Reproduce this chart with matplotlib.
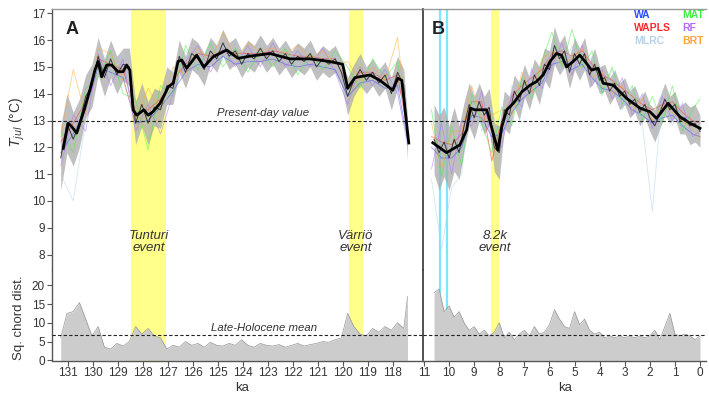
import numpy as np
import matplotlib
matplotlib.use("Agg")
import matplotlib.pyplot as plt

plt.rcParams['font.family'] = ['Liberation Sans', 'DejaVu Sans']

# ---------------- DATA ----------------
# Panel A (Eemian), LOESS-smoothed mean
A_sm_age = [131.2, 131.0, 130.86, 130.66, 130.4, 130.13, 129.93, 129.8, 129.66, 129.46, 129.26, 129.0,
            128.8, 128.66, 128.53, 128.4, 128.26, 128.13, 127.97, 127.8, 127.6, 127.32, 127.12, 126.99,
            126.79, 126.6, 126.45, 126.25, 125.85, 125.56, 125.19, 124.65, 124.19, 123.72, 122.92, 122.11,
            121.31, 120.51, 120.0, 119.8, 119.51, 118.91, 118.51, 117.99, 117.79, 117.63, 117.35]
A_sm_T = [11.96, 12.9, 12.77, 12.53, 13.28, 14.14, 14.88, 15.2, 14.63, 15.07, 15.07, 14.82,
          14.82, 15.07, 14.88, 13.4, 13.2, 13.28, 13.4, 13.2, 13.33, 13.64, 14.0, 14.26,
          14.39, 15.2, 15.26, 14.95, 15.44, 15.0, 15.38, 15.63, 15.32, 15.4, 15.5, 15.3,
          15.3, 15.2, 15.1, 14.2, 14.6, 14.7, 14.5, 14.13, 14.58, 14.5, 12.16]

# Panel A sample-level mean reconstruction, spread and chord distance
A_age = [131.30, 131.05, 130.80, 130.55, 130.30, 130.05, 129.80, 129.55, 129.30, 129.05,
         128.80, 128.55, 128.30, 128.05, 127.80, 127.55, 127.30, 127.05, 126.80, 126.55,
         126.30, 126.05, 125.80, 125.55, 125.30, 125.05, 124.80, 124.55, 124.30, 124.05,
         123.80, 123.55, 123.30, 123.05, 122.80, 122.55, 122.30, 122.05, 121.80, 121.55,
         121.30, 121.05, 120.80, 120.55, 120.30, 120.05, 119.80, 119.55, 119.30, 119.05,
         118.80, 118.55, 118.30, 118.05, 117.80, 117.55, 117.40]
A_T = [11.6, 12.9, 12.3, 12.9, 13.9, 14.3, 15.4, 14.6, 15.3, 14.7,
       15.1, 15.0, 12.9, 13.6, 12.9, 13.5, 13.4, 14.3, 14.2, 15.4,
       14.8, 15.5, 15.3, 14.9, 15.6, 15.3, 15.9, 15.4, 15.6, 15.1,
       15.5, 15.3, 15.7, 15.3, 15.6, 15.2, 15.5, 15.1, 15.4, 15.2,
       15.5, 15.0, 15.3, 15.1, 15.3, 14.8, 13.9, 14.5, 14.9, 14.5,
       14.8, 14.4, 14.7, 14.0, 14.8, 14.3, 12.3]
A_spread = [1.2, 1.1, 1.0, 0.9, 0.8, 0.8, 0.7, 0.7, 0.7, 0.7,
            0.6, 0.7, 0.8, 0.8, 0.8, 0.7, 0.7, 0.7, 0.6, 0.6,
            0.6, 0.6, 0.6, 0.6, 0.5, 0.5, 0.5, 0.5, 0.5, 0.5,
            0.5, 0.5, 0.5, 0.5, 0.5, 0.5, 0.5, 0.5, 0.5, 0.5,
            0.5, 0.5, 0.5, 0.5, 0.5, 0.5, 0.7, 0.6, 0.6, 0.5,
            0.5, 0.5, 0.5, 0.6, 0.6, 0.6, 0.8]
A_chord = [6.0, 12.5, 13.0, 15.4, 11.0, 6.5, 9.0, 3.5, 3.0, 4.5,
           3.8, 5.0, 9.0, 7.0, 8.5, 6.5, 6.0, 3.0, 4.0, 3.5,
           5.0, 4.0, 4.5, 3.5, 4.8, 4.0, 3.8, 4.5, 4.0, 5.5,
           4.0, 3.5, 4.5, 4.0, 3.8, 4.2, 3.5, 4.0, 4.5, 3.8,
           4.2, 4.5, 5.0, 4.8, 5.5, 6.0, 12.5, 9.0, 7.0, 6.5,
           8.5, 7.5, 9.0, 8.0, 10.0, 8.5, 17.0]

# Panel A individual transfer-function methods
A_m_age = [131.3, 130.8, 130.3, 129.8, 129.3, 128.8, 128.3, 127.8, 127.3, 126.8, 126.3, 125.8, 125.3, 124.8,
           124.3, 123.8, 123.3, 122.8, 122.3, 121.8, 121.3, 120.8, 120.3, 119.8, 119.3, 118.8, 118.3, 117.8, 117.4]
A_WA = [11.8, 12.5, 13.4, 15.0, 14.8, 14.6, 12.9, 13.0, 13.5, 14.1, 14.8, 15.1, 15.0, 15.4, 15.1, 15.2, 15.2,
        15.3, 15.1, 15.0, 15.1, 15.0, 14.9, 13.9, 14.4, 14.5, 14.2, 14.3, 12.3]
A_WAPLS = [12.2, 12.9, 13.7, 15.3, 15.1, 14.9, 13.3, 13.4, 13.8, 14.5, 15.1, 15.5, 15.4, 15.6, 15.5, 15.5, 15.5,
           15.6, 15.5, 15.4, 15.4, 15.3, 15.3, 14.3, 14.8, 14.8, 14.5, 14.7, 12.6]
A_MLRC = [11.0, 10.0, 13.0, 15.8, 14.6, 15.5, 12.4, 13.0, 12.8, 14.9, 15.6, 15.0, 15.9, 15.2, 16.0, 15.1, 15.9,
          15.3, 15.8, 15.1, 15.7, 15.0, 15.6, 14.0, 15.3, 14.6, 15.0, 14.1, 12.0]
A_MAT = [12.6, 11.8, 14.2, 14.6, 15.6, 14.0, 13.8, 11.9, 14.3, 13.9, 15.8, 14.9, 15.9, 15.0, 15.7, 14.8, 15.6,
         15.0, 15.7, 14.7, 15.5, 14.9, 15.6, 15.0, 14.2, 15.3, 14.6, 15.2, 13.0]
A_RF = [11.3, 13.2, 12.6, 15.5, 14.3, 15.3, 12.6, 13.6, 12.5, 14.0, 15.2, 15.8, 14.8, 15.7, 15.0, 15.8, 15.0,
        15.9, 15.0, 15.6, 15.0, 15.7, 14.8, 13.6, 15.0, 14.3, 14.9, 14.0, 12.2]
A_BRT = [12.4, 14.9, 13.2, 15.7, 15.5, 14.5, 13.0, 14.2, 13.4, 15.0, 14.7, 15.7, 15.2, 16.3, 15.3, 15.9, 15.6,
         15.7, 15.5, 15.8, 15.3, 15.6, 15.1, 15.2, 14.5, 15.0, 14.5, 16.1, 12.8]

# Panel B (Holocene), LOESS-smoothed mean
B_sm_age = [10.65, 10.1, 9.57, 9.3, 9.15, 8.98, 8.5, 8.24, 8.06, 7.9, 7.7, 7.44, 7.1, 6.77, 6.52, 6.25,
            5.98, 5.72, 5.52, 5.32, 5.06, 4.79, 4.52, 4.32, 4.06, 3.86, 3.46, 2.93, 2.39, 2.0, 1.73, 1.27,
            0.8, 0.4, 0.0]
B_sm_T = [12.17, 11.8, 12.09, 12.65, 13.46, 13.4, 13.4, 12.52, 11.9, 12.77, 13.4, 13.64, 14.07, 14.32, 14.45,
          14.7, 15.2, 15.5, 15.44, 15.0, 15.2, 15.44, 15.13, 14.88, 14.95, 14.39, 14.32, 13.83, 13.46, 13.33,
          13.08, 13.64, 13.14, 12.9, 12.71]

B_age = [10.6, 10.4, 10.2, 10.0, 9.8, 9.6, 9.4, 9.2, 9.0, 8.8, 8.6, 8.4, 8.2, 8.0, 7.8, 7.6, 7.4, 7.2,
         7.0, 6.8, 6.6, 6.4, 6.2, 6.0, 5.8, 5.6, 5.4, 5.2, 5.0, 4.8, 4.6, 4.4, 4.2, 4.0, 3.8, 3.6,
         3.4, 3.2, 3.0, 2.8, 2.6, 2.4, 2.2, 2.0, 1.8, 1.6, 1.4, 1.2, 1.0, 0.8, 0.6, 0.4, 0.2, 0.0]
B_T = [12.3, 11.8, 12.2, 11.6, 12.3, 11.8, 12.8, 13.6, 13.1, 13.7, 13.2, 13.5, 12.0, 11.8, 13.4, 13.2, 14.1, 13.7,
       14.5, 14.0, 14.7, 14.3, 15.1, 14.9, 15.8, 15.3, 15.6, 14.8, 15.5, 15.1, 15.5, 14.7, 15.1, 14.5, 14.6, 14.1,
       14.4, 13.9, 14.1, 13.6, 13.8, 13.3, 13.6, 13.1, 12.8, 13.3, 13.8, 13.4, 13.6, 13.0, 13.1, 12.8, 12.9, 12.6]
B_spread = [1.3, 1.4, 1.3, 1.2, 1.2, 1.0, 0.9, 0.8, 0.8, 0.7, 0.7, 0.7, 0.9, 1.0, 0.7, 0.7, 0.6, 0.7,
            0.6, 0.6, 0.6, 0.7, 0.6, 0.7, 0.7, 0.6, 0.6, 0.6, 0.6, 0.6, 0.6, 0.5, 0.6, 0.5, 0.5, 0.5,
            0.5, 0.5, 0.5, 0.5, 0.5, 0.5, 0.5, 0.5, 0.6, 0.6, 0.6, 0.5, 0.5, 0.5, 0.6, 0.7, 0.7, 0.6]
B_chord = [18.0, 19.0, 13.0, 14.5, 11.5, 13.0, 10.0, 8.0, 9.0, 7.0, 8.0, 6.5, 7.5, 10.0, 6.0, 7.5, 5.5, 7.0,
           8.0, 6.5, 9.0, 7.0, 7.5, 9.5, 13.5, 11.0, 9.0, 8.5, 13.0, 9.5, 11.0, 8.0, 7.0, 7.5, 6.0, 6.5,
           6.0, 6.5, 6.0, 6.5, 6.0, 6.5, 6.0, 6.5, 8.0, 5.5, 9.0, 12.5, 7.0, 6.5, 7.0, 6.5, 5.5, 6.5]

B_m_age = [10.7, 10.3, 9.9, 9.5, 9.1, 8.7, 8.3, 7.9, 7.5, 7.1, 6.7, 6.3, 5.9, 5.5, 5.1, 4.7, 4.3, 3.9,
           3.5, 3.1, 2.7, 2.3, 1.9, 1.5, 1.1, 0.7, 0.3, 0.0]
B_WA = [12.0, 11.6, 11.6, 12.0, 13.2, 13.1, 12.4, 12.5, 13.3, 13.8, 14.1, 14.4, 15.1, 15.2, 14.9, 15.1, 14.6,
        14.2, 14.1, 13.8, 13.4, 13.2, 12.9, 13.1, 13.2, 12.8, 12.5, 12.4]
B_WAPLS = [12.4, 12.2, 12.1, 12.5, 13.7, 13.7, 11.5, 13.0, 13.9, 14.3, 14.6, 14.9, 15.5, 15.6, 15.4, 15.6, 15.1,
           14.7, 14.5, 14.2, 13.9, 13.6, 13.4, 13.6, 13.7, 13.3, 13.0, 12.9]
B_MLRC = [10.8, 8.2, 10.5, 11.0, 14.2, 12.6, 13.5, 11.9, 14.3, 13.4, 15.0, 13.9, 15.9, 14.8, 15.8, 14.7, 15.4,
          13.9, 14.9, 13.4, 14.2, 12.9, 9.6, 14.0, 12.8, 13.7, 12.3, 13.2]
B_MAT = [13.4, 10.9, 12.8, 11.3, 14.0, 12.9, 11.8, 13.5, 12.8, 14.6, 13.8, 15.2, 16.3, 15.0, 16.4, 15.0, 15.6,
         14.0, 15.0, 13.6, 14.3, 13.0, 13.9, 12.9, 14.3, 12.6, 13.4, 13.8]
B_RF = [11.2, 12.9, 11.0, 13.0, 12.8, 14.1, 12.2, 12.0, 14.0, 13.5, 14.9, 14.2, 15.0, 15.9, 14.7, 15.8, 14.3,
        14.9, 13.8, 14.6, 13.2, 14.0, 12.7, 13.9, 13.0, 13.6, 12.4, 12.6]
B_BRT = [12.9, 11.2, 12.6, 12.6, 14.3, 13.0, 13.2, 13.4, 13.2, 14.8, 14.0, 15.3, 15.6, 15.1, 15.3, 15.7, 14.6,
         14.8, 14.0, 14.3, 13.4, 13.8, 13.0, 13.6, 13.3, 13.0, 12.7, 12.3]

method_names = ['WA', 'WAPLS', 'MLRC', 'MAT', 'RF', 'BRT']
method_colors = ['#2c4bff', '#ff2a2a', '#b4d2ec', '#3ef03e', '#b46cff', '#ffa733']

present_day = 13.0
late_holocene_mean = 6.75

A_events = [(128.48, 127.08, 'Tunturi\nevent'), (119.76, 119.2, 'Värriö\nevent')]
B_events = [(8.34, 8.02, '8.2k\nevent')]
B_cyan = [10.37, 10.09]

# ---------------- FIGURE ----------------
W, H = 709, 396
fig = plt.figure(figsize=(W / 100, H / 100), dpi=100)

def fx(px):
    return px / W

def fy(py):
    return 1 - py / H

top_y, split_y, bot_y = 9.5, 270.0, 360.5
xa0, xdiv, xb1 = 52.0, 423.0, 706.0

axA = fig.add_axes([fx(xa0), fy(split_y), fx(xdiv - xa0), (split_y - top_y) / H])
axA2 = fig.add_axes([fx(xa0), fy(bot_y), fx(xdiv - xa0), (bot_y - split_y) / H])
axB = fig.add_axes([fx(xdiv), fy(split_y), fx(xb1 - xdiv), (split_y - top_y) / H])
axB2 = fig.add_axes([fx(xdiv), fy(bot_y), fx(xb1 - xdiv), (bot_y - split_y) / H])

T_lim = (7.422, 17.142)
C_lim = (-0.05, 24.08)
spine_col = '#555555'

for ax in (axA, axB):
    ax.set_ylim(*T_lim)
for ax in (axA2, axB2):
    ax.set_ylim(*C_lim)
for ax in (axA, axA2):
    ax.set_xlim(131.65, 116.78)
for ax in (axB, axB2):
    ax.set_xlim(11.04, -0.24)

def draw_temp(ax, sm_age, sm_T, age, T, spread, m_age, methods):
    a = np.array(age)
    t = np.array(T)
    s = np.array(spread)
    ax.fill_between(a, t - s, t + s, color='#aaaaaa', alpha=0.75, lw=0, zorder=2)
    for vals, col in zip(methods, method_colors):
        ax.plot(m_age, vals, color=col, lw=0.6, alpha=0.55, zorder=3)
    ax.plot(a, t, color='#1a1a1a', lw=0.7, alpha=0.8, zorder=4)
    ax.plot(sm_age, sm_T, color='black', lw=2.0, zorder=5, solid_joinstyle='round')
    ax.axhline(present_day, color='#222222', lw=0.8, ls=(0, (3, 2)), zorder=6)

def draw_chord(ax, age, chord):
    ax.fill_between(age, 0, chord, color='#cccccc', lw=0, zorder=2)
    ax.plot(age, chord, color='#969696', lw=0.5, zorder=3)
    ax.axhline(late_holocene_mean, color='#222222', lw=0.8, ls=(0, (3, 2)), zorder=6)

draw_temp(axA, A_sm_age, A_sm_T, A_age, A_T, A_spread, A_m_age,
          [A_WA, A_WAPLS, A_MLRC, A_MAT, A_RF, A_BRT])
draw_temp(axB, B_sm_age, B_sm_T, B_age, B_T, B_spread, B_m_age,
          [B_WA, B_WAPLS, B_MLRC, B_MAT, B_RF, B_BRT])
draw_chord(axA2, A_age, A_chord)
draw_chord(axB2, B_age, B_chord)

# events
ev_col = '#ffff8a'
for x0, x1, lab in A_events:
    for ax in (axA, axA2):
        ax.axvspan(x0, x1, color=ev_col, lw=0, zorder=1)
    axA.text((x0 + x1) / 2, 8.47, lab, ha='center', va='center', style='italic',
             fontsize=9.5, color='#333333', linespacing=1.0, zorder=7)
for x0, x1, lab in B_events:
    for ax in (axB, axB2):
        ax.axvspan(x0, x1, color=ev_col, lw=0, zorder=1)
    axB.text((x0 + x1) / 2, 8.47, lab, ha='center', va='center', style='italic',
             fontsize=9.5, color='#333333', linespacing=1.0, zorder=7)
for c in B_cyan:
    for ax in (axB, axB2):
        ax.axvline(c, color='#7fe6ff', lw=1.6, zorder=1)

axA.text(123.2, 13.28, 'Present-day value', ha='center', va='center', style='italic',
         fontsize=8.2, color='#333333', zorder=7)
axA2.text(123.15, 8.6, 'Late-Holocene mean', ha='center', va='center', style='italic',
          fontsize=8.2, color='#333333', zorder=7)

# panel letters
axA.text(0.037, 0.955, 'A', transform=axA.transAxes, fontsize=13, fontweight='bold',
         ha='left', va='top', color='#222222')
axB.text(0.03, 0.955, 'B', transform=axB.transAxes, fontsize=13, fontweight='bold',
         ha='left', va='top', color='#222222')

# method legend text
leg_pos = [(634, 15), (634, 28), (634, 41), (682, 15), (682, 28), (682, 41)]
for (px, py), name, col in zip(leg_pos, method_names, method_colors):
    fig.text(fx(px), fy(py), name, color=col, fontsize=7.5, fontweight='bold',
             ha='left', va='center')

# spines & ticks
for ax in (axA, axA2, axB, axB2):
    for sp in ax.spines.values():
        sp.set_color(spine_col)
        sp.set_linewidth(1.0)
    ax.spines['right'].set_visible(False)
    ax.tick_params(colors=spine_col, labelcolor='#333333', labelsize=8.5, length=3.5, width=0.8,
                   direction='out', pad=1.5)

for ax in (axA, axB):
    ax.spines['bottom'].set_visible(False)
    ax.set_xticks([])
    ax.spines['top'].set_color('#999999')
for ax in (axA2, axB2):
    ax.spines['top'].set_visible(False)

axA.set_yticks(range(8, 18))
axA2.set_yticks([0, 5, 10, 15, 20])
for ax in (axB, axB2):
    ax.set_yticks([])
    ax.spines['left'].set_color('#333333')
    ax.spines['left'].set_linewidth(1.2)

axA2.set_xticks(range(131, 117, -1))
axB2.set_xticks(range(11, -1, -1))

fig.text(fx(242), fy(388), 'ka', ha='center', va='center', fontsize=9.5, color='#333333')
fig.text(fx(565), fy(388), 'ka', ha='center', va='center', fontsize=9.5, color='#333333')
fig.text(fx(17), fy(122), r'$T_{jul}$ (°C)', rotation=90, ha='center', va='center',
         fontsize=10, color='#333333')
fig.text(fx(19), fy(318), 'Sq. chord dist.', rotation=90, ha='center', va='center',
         fontsize=9.5, color='#333333')

fig.savefig('out.png', dpi=100)
